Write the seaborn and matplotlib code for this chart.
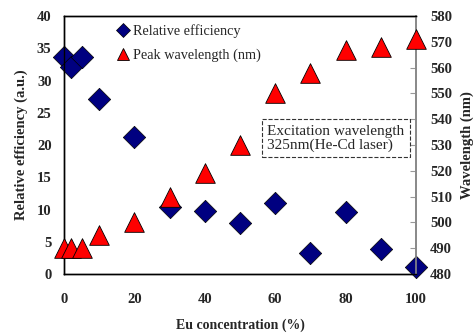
import pandas as pd
import matplotlib.pyplot as plt
import seaborn as sns
from matplotlib.lines import Line2D

# Data
eu_conc = [0, 2, 5, 10, 20, 30, 40, 50, 60, 70, 80, 90, 100]
rel_eff = [33.7, 32.1, 33.7, 27.2, 21.2, 10.4, 9.7, 7.9, 11.0, 3.3, 9.6, 3.9, 1.1]
peak_wl = [490, 490, 490, 495, 500, 510, 519, 530, 550, 558, 567, 568, 571]

df = pd.DataFrame({'Eu': eu_conc, 'Eff': rel_eff, 'WL': peak_wl})

sns.set_theme(style="white")
plt.rcParams['font.family'] = ['Liberation Serif', 'DejaVu Serif']

fig = plt.figure(figsize=(4.76, 3.36), dpi=100)
ax = fig.add_axes([0.1345, 0.1845, 0.7395, 0.7675])
ax2 = ax.twinx()

# Efficiency (left axis)
sns.scatterplot(data=df, x='Eu', y='Eff', ax=ax, marker='D', s=130,
                color='#000080', edgecolor='black', linewidth=0.5,
                clip_on=False, zorder=3, legend=False)
# Peak wavelength (right axis), drawn on top of the diamonds
sns.scatterplot(data=df, x='Eu', y='WL', ax=ax2, marker='^', s=200,
                color='#ff0000', edgecolor='black', linewidth=0.6,
                clip_on=False, zorder=3, legend=False)

ax.set_xlim(0, 100)
ax.set_ylim(0, 40)
ax2.set_ylim(480, 580)
ax.set_xticks(range(0, 101, 20))
ax.set_yticks(range(0, 41, 5))
ax2.set_yticks(range(480, 581, 10))

ax.set_xlabel("Eu concentration (%)", fontsize=10, fontweight='bold', labelpad=9)
ax.set_ylabel("Relative efficiency (a.u.)", fontsize=10.5, fontweight='bold', labelpad=6)
ax2.set_ylabel("Wavelength (nm)", fontsize=10.5, fontweight='bold', labelpad=6)

ax.tick_params(axis='x', direction='in', length=4, width=0.8, color='black',
               pad=14, labelsize=10.5)
ax.tick_params(axis='y', direction='in', length=0, pad=9, labelsize=10.5)
ax2.tick_params(axis='y', direction='in', length=4, width=0.8, color='#999999',
                pad=10, labelsize=10.5)
for lab in ax.get_xticklabels() + ax.get_yticklabels() + ax2.get_yticklabels():
    lab.set_fontweight('bold')

for a in (ax, ax2):
    for side in ('left', 'bottom', 'top'):
        a.spines[side].set_color('black')
        a.spines[side].set_linewidth(1.0)
    a.spines['right'].set_color('#888888')
    a.spines['right'].set_linewidth(1.2)

handles = [
    Line2D([], [], marker='D', linestyle='none', markersize=7,
           markerfacecolor='#000080', markeredgecolor='black', markeredgewidth=0.5),
    Line2D([], [], marker='^', linestyle='none', markersize=9,
           markerfacecolor='#ff0000', markeredgecolor='black', markeredgewidth=0.6),
]
ax2.legend(handles, ["Relative efficiency", "Peak wavelength (nm)"],
           loc='upper left', bbox_to_anchor=(0.13, 0.99), frameon=False,
           fontsize=10.3, handletextpad=0.2, labelspacing=0.7,
           handlelength=1.0, borderaxespad=0)

ax2.text(0.577, 0.527, "Excitation wavelength\n325nm(He-Cd laser)",
         transform=ax2.transAxes, ha='left', va='center', fontsize=11,
         linespacing=1.05,
         bbox=dict(boxstyle='square,pad=0.35', facecolor='white',
                   edgecolor='#333333', linestyle='--', linewidth=0.8))

plt.savefig("out.png", dpi=100)
plt.close()
